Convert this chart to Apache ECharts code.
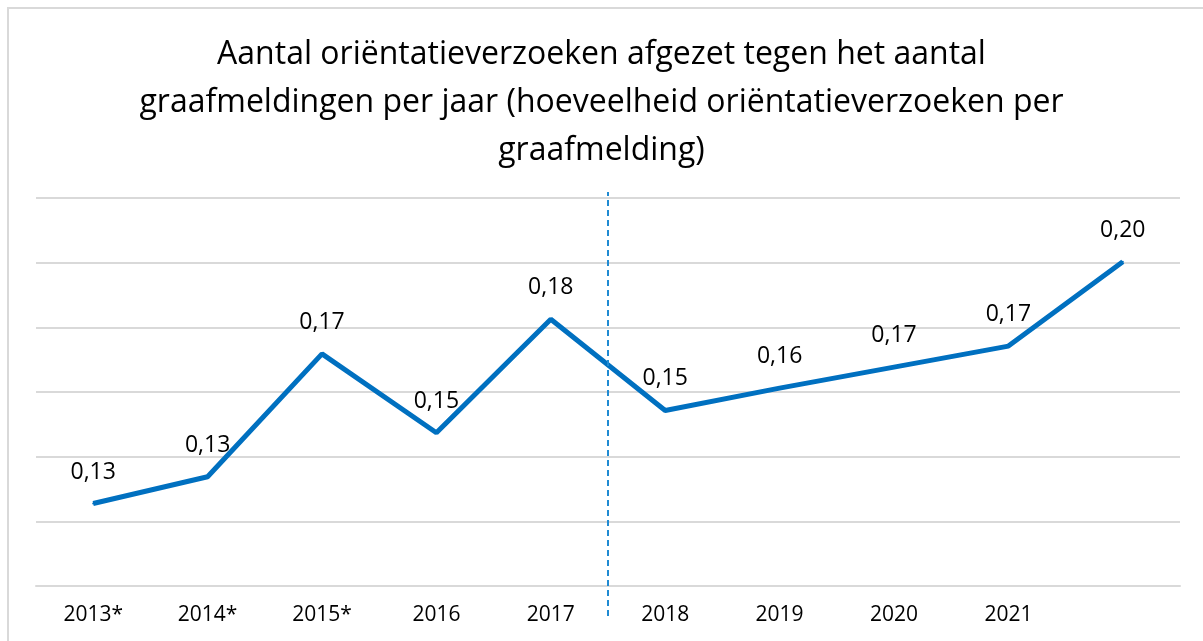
<!DOCTYPE html>
<html lang="nl">
<head>
    <meta charset="UTF-8">
    <title>Oriëntatieverzoeken per graafmelding</title>
    <script src="https://cdn.jsdelivr.net/npm/echarts@6/dist/echarts.min.js"></script>
    <style>
        html, body { margin: 0; padding: 0; background: #fff; }
        #frame { position: absolute; left: 7px; top: 7px; width: 1200px; height: 640px; border: 2px solid #d9d9d9; box-sizing: border-box; }
        #main { position: absolute; left: 0; top: 0; width: 1203px; height: 641px; }
    </style>
</head>
<body>
    <div id="frame"></div>
    <div id="main"></div>
    <script>
        // jaren (laatste punt heeft geen label in het origineel)
        var years = ['2013*', '2014*', '2015*', '2016', '2017', '2018', '2019', '2020', '2021', ''];
        // oriëntatieverzoeken per graafmelding
        var ratio = [0.1255, 0.1338, 0.1718, 0.1474, 0.1825, 0.1543, 0.1612, 0.1677, 0.1742, 0.2003];
        // scheiding tussen 2017 en 2018
        var splitAt = 4.5;

        var font = '"Open Sans", "Noto Sans", sans-serif';
        var myChart = echarts.init(document.getElementById('main'));

        myChart.setOption({
            animation: false,
            title: {
                text: 'Aantal oriëntatieverzoeken afgezet tegen het aantal\ngraafmeldingen per jaar (hoeveelheid oriëntatieverzoeken per\ngraafmelding)',
                left: 'center',
                top: 26,
                textStyle: { fontFamily: font, fontSize: 32, fontWeight: 'normal', color: '#000', lineHeight: 48 }
            },
            grid: [
                { left: 36, right: 23, top: 198, bottom: 55 },
                { left: 36, right: 23, top: 192, bottom: 25 }
            ],
            xAxis: [
                {
                    type: 'category',
                    data: years,
                    gridIndex: 0,
                    axisLine: { lineStyle: { color: '#d9d9d9', width: 2 } },
                    axisTick: { show: false },
                    axisLabel: { fontFamily: font, fontSize: 21, color: '#000', margin: 19, interval: 0 }
                },
                { type: 'value', gridIndex: 1, min: -0.5, max: 9.5, show: false }
            ],
            yAxis: [
                {
                    type: 'value',
                    gridIndex: 0,
                    min: 0.10,
                    max: 0.22,
                    interval: 0.02,
                    axisLabel: { show: false },
                    axisLine: { show: false },
                    axisTick: { show: false },
                    splitLine: { lineStyle: { color: '#d9d9d9', width: 2 } }
                },
                { type: 'value', gridIndex: 1, min: 0, max: 1, show: false }
            ],
            series: [
                {
                    type: 'line',
                    data: ratio,
                    xAxisIndex: 0,
                    yAxisIndex: 0,
                    symbol: 'circle',
                    symbolSize: 2,
                    itemStyle: { color: '#0070c0' },
                    lineStyle: { color: '#0070c0', width: 5 },
                    label: {
                        show: true,
                        position: 'top',
                        distance: 19,
                        fontFamily: font,
                        fontSize: 23,
                        color: '#000',
                        formatter: function (p) { return p.value.toFixed(2).replace('.', ','); }
                    }
                },
                {
                    type: 'line',
                    data: [[splitAt, 0], [splitAt, 1]],
                    xAxisIndex: 1,
                    yAxisIndex: 1,
                    symbol: 'none',
                    silent: true,
                    lineStyle: { color: '#1f8ad2', width: 2, type: [6, 4] }
                }
            ]
        });
    </script>
</body>
</html>
